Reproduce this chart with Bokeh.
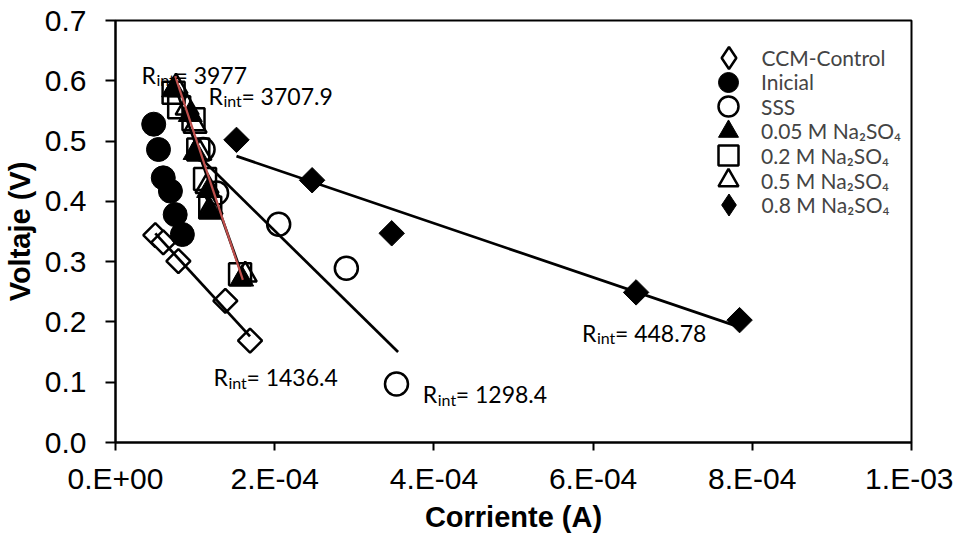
import numpy as np
from bokeh.plotting import figure
from bokeh.models import FixedTicker, Legend, LegendItem, ColumnDataSource
from bokeh.embed import file_html
from bokeh.resources import INLINE
from bokeh.core.properties import value

# ---------------- data ----------------
ccm_i = [5.0e-5, 6.0e-5, 7.9e-5, 1.38e-4, 1.69e-4]
ccm_v = [0.344, 0.332, 0.301, 0.235, 0.169]

ini_i = [4.8e-5, 5.4e-5, 6.0e-5, 6.9e-5, 7.5e-5, 8.4e-5]
ini_v = [0.528, 0.486, 0.439, 0.417, 0.378, 0.345]

sss_i = [1.10e-4, 1.27e-4, 2.05e-4, 2.90e-4, 3.53e-4]
sss_v = [0.486, 0.414, 0.362, 0.289, 0.097]

m005_i = [7.3e-5, 9.4e-5, 1.00e-4, 1.17e-4, 1.19e-4, 1.585e-4]
m005_v = [0.585, 0.544, 0.481, 0.418, 0.384, 0.271]

m02_i = [7.3e-5, 8.0e-5, 9.8e-5, 1.04e-4, 1.125e-4, 1.19e-4, 1.565e-4]
m02_v = [0.580, 0.556, 0.536, 0.486, 0.437, 0.390, 0.279]

m05_i = [7.6e-5, 9.0e-5, 1.00e-4, 1.06e-4, 1.15e-4, 1.20e-4, 1.63e-4]
m05_v = [0.590, 0.555, 0.525, 0.480, 0.425, 0.390, 0.278]

m08_i = [1.52e-4, 2.47e-4, 3.47e-4, 6.54e-4, 7.84e-4]
m08_v = [0.502, 0.435, 0.347, 0.249, 0.203]

series_labels = ["CCM-Control", "Inicial", "SSS", "0.05 M Na\u2082SO\u2084",
                 "0.2 M Na\u2082SO\u2084", "0.5 M Na\u2082SO\u2084", "0.8 M Na\u2082SO\u2084"]

# linear fits V = b - Rint * I
fit_rint = [1436.4, 1298.4, 448.78, 3707.9, 3977.0]
fit_b = [0.4187, 0.611, 0.5432, 0.868, 0.906]
fit_x0 = [5.0e-5, 1.10e-4, 1.52e-4, 7.5e-5, 7.5e-5]
fit_x1 = [1.69e-4, 3.55e-4, 7.84e-4, 1.60e-4, 1.60e-4]
fit_color = ["black", "black", "black", "black", "#C0504D"]

# R_int annotations
ann_text = ["3977", "3707.9", "1436.4", "1298.4", "448.78"]
ann_x = [3.26e-5, 1.167e-4, 1.23e-4, 3.86e-4, 5.86e-4]
ann_y = [0.610, 0.575, 0.108, 0.080, 0.182]

x_ticks = [0.0, 0.0002, 0.0004, 0.0006, 0.0008, 0.001]
x_tick_labels = ["0.E+00", "2.E-04", "4.E-04", "6.E-04", "8.E-04", "1.E-03"]
y_ticks = [0.0, 0.1, 0.2, 0.3, 0.4, 0.5, 0.6, 0.7]
y_tick_labels = ["0.0", "0.1", "0.2", "0.3", "0.4", "0.5", "0.6", "0.7"]

# ---------------- figure ----------------
p = figure(width=953, height=535, x_range=(0, 0.001), y_range=(0, 0.7),
           output_backend="svg", toolbar_location=None,
           min_border_left=114, min_border_right=42,
           min_border_top=20, min_border_bottom=93)
p.background_fill_color = "white"
p.border_fill_color = "white"
p.outline_line_color = "black"
p.outline_line_width = 2
p.xgrid.grid_line_color = None
p.ygrid.grid_line_color = None

AX_FONT = "Liberation Sans"
for ax in (p.xaxis[0], p.yaxis[0]):
    ax.axis_line_width = 2
    ax.axis_line_color = "black"
    ax.major_tick_line_width = 2
    ax.major_tick_in = 0
    ax.minor_tick_in = 0
    ax.minor_tick_out = 0
    ax.major_label_text_font = AX_FONT
    ax.major_label_text_font_size = "30px"
    ax.major_label_text_color = "black"
    ax.axis_label_text_font = AX_FONT
    ax.axis_label_text_font_size = "29px"
    ax.axis_label_text_font_style = "bold"
    ax.axis_label_text_color = "black"

p.xaxis.ticker = FixedTicker(ticks=x_ticks)
p.xaxis.major_label_overrides = dict(zip(x_ticks, x_tick_labels))
p.xaxis.major_tick_out = 8
p.xaxis.major_label_standoff = 11
p.xaxis.axis_label = "Corriente (A)"
p.xaxis.axis_label_standoff = 3

p.yaxis.ticker = FixedTicker(ticks=y_ticks)
p.yaxis.major_label_overrides = dict(zip(y_ticks, y_tick_labels))
p.yaxis.major_tick_out = 10
p.yaxis.major_label_standoff = 19
p.yaxis.axis_label = "Voltaje (V)"
p.yaxis.axis_label_standoff = 6

LW = 2.5
# legend proxies for the diamond series (legend glyphs ignore marker angle);
# drawn tiny and underneath the real markers so they stay hidden in the plot
prox_ccm = p.scatter(ccm_i, ccm_v, marker="diamond", size=3, fill_color="white",
                     line_color="black", line_width=LW)
prox_08 = p.scatter(m08_i, m08_v, marker="diamond", size=3, fill_color="black",
                    line_color="black", line_width=1)

r_ccm = p.scatter(ccm_i, ccm_v, marker="square", angle=np.pi / 4, size=17,
                  fill_color="white", line_color="black", line_width=LW)
r_ini = p.scatter(ini_i, ini_v, marker="circle", size=24,
                  fill_color="black", line_color="black", line_width=1)
r_sss = p.scatter(sss_i, sss_v, marker="circle", size=23,
                  fill_color="white", line_color="black", line_width=LW)
r_005 = p.scatter(m005_i, m005_v, marker="triangle", size=24,
                  fill_color="black", line_color="black", line_width=1)
r_02 = p.scatter(m02_i, m02_v, marker="square", size=22,
                 fill_color="white", fill_alpha=0, line_color="black", line_width=LW)
r_05 = p.scatter(m05_i, m05_v, marker="triangle", size=23,
                 fill_color="white", fill_alpha=0, line_color="black", line_width=LW)
r_08 = p.scatter(m08_i, m08_v, marker="square", angle=np.pi / 4, size=18,
                 fill_color="black", line_color="black", line_width=1)

# trend lines
for rint, b, x0, x1, col in zip(fit_rint, fit_b, fit_x0, fit_x1, fit_color):
    xs = np.array([x0, x1])
    ys = b - rint * xs
    p.line(xs, ys, line_color=col, line_width=2.2 if col != "black" else 2.75)

# annotations "R_int= value"
ANN_FONT = "Lato"
src_ann = ColumnDataSource(dict(x=ann_x, y=ann_y,
                                r=["R"] * len(ann_x),
                                sub=["int"] * len(ann_x),
                                val=["= " + t for t in ann_text]))
p.text(x="x", y="y", text="r", source=src_ann, text_font=value(ANN_FONT),
       text_font_size="23px", text_baseline="alphabetic", text_align="left",
       text_color="black")
p.text(x="x", y="y", text="sub", source=src_ann, text_font=value(ANN_FONT),
       text_font_size="16px", text_baseline="alphabetic", text_align="left",
       x_offset=15, y_offset=5, text_color="black")
p.text(x="x", y="y", text="val", source=src_ann, text_font=value(ANN_FONT),
       text_font_size="23px", text_baseline="alphabetic", text_align="left",
       x_offset=33, text_color="black")

legend_renderers = [prox_ccm, r_ini, r_sss, r_005, r_02, r_05, prox_08]
row_top = 37.0      # px below frame top for first legend row centre
row_pitch = 24.6
frame_h = 422
for k, (lab, r) in enumerate(zip(series_labels, legend_renderers)):
    g = 55 if r in (prox_ccm, prox_08) else 50
    centre = row_top + k * row_pitch
    lg = Legend(items=[LegendItem(label=lab, renderers=[r])],
                location=(613 - g / 2, frame_h - centre - g / 2),
                padding=0, margin=0, spacing=0,
                glyph_height=g, glyph_width=g, label_height=g,
                label_standoff=int(round(646 - (613 + g / 2))),
                label_text_font=ANN_FONT, label_text_font_size="21px",
                border_line_color=None, background_fill_alpha=0)
    p.add_layout(lg)

open("out.html", "w").write(file_html(p, INLINE))
